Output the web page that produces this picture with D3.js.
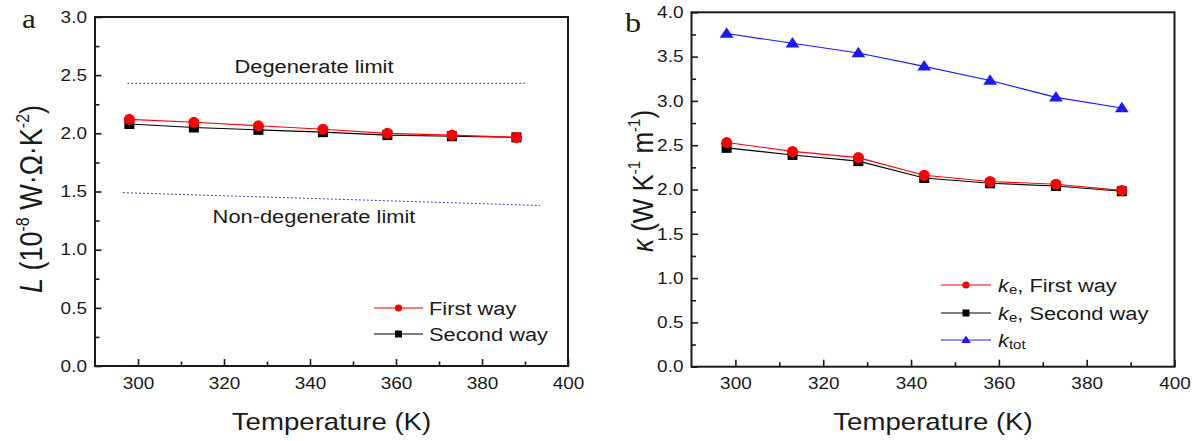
<!DOCTYPE html>
<html>
<head>
<meta charset="utf-8">
<script src="https://cdn.jsdelivr.net/npm/d3@7"></script>
<style>
  html, body { margin: 0; padding: 0; background: #fff; }
  svg { display: block; }
  text { font-family: "Liberation Sans", Arial, sans-serif; fill: #1a1a1a; }
</style>
</head>
<body>
<svg id="chart" width="1203" height="441"></svg>
<script>
// Temperatures (K)
const temperatures = [298, 313, 328, 343, 358, 373, 388];

// Panel a: Lorenz number L (10^-8 W·Ω·K^-2)
const lFirstWay  = [2.12, 2.095, 2.065, 2.035, 2.00, 1.985, 1.965];
const lSecondWay = [2.08, 2.05, 2.03, 2.01, 1.985, 1.975, 1.965];
const degenerateTemps = [297.5, 390];
const degenerateLimit = [2.43, 2.43];
const nonDegenerateTemps = [296.5, 393.5];
const nonDegenerateLimit = [1.49, 1.38];

// Panel b: thermal conductivity κ (W K^-1 m^-1)
const keFirstWay  = [2.53, 2.43, 2.36, 2.16, 2.09, 2.06, 1.99];
const keSecondWay = [2.47, 2.39, 2.32, 2.13, 2.07, 2.04, 1.98];
const kTotal      = [3.76, 3.65, 3.54, 3.39, 3.23, 3.04, 2.92];

// Axis ticks
const xMajorTicks = [300, 320, 340, 360, 380, 400];
const xMinorTicks = [310, 330, 350, 370, 390];
const yTicksA = [0, 0.5, 1.0, 1.5, 2.0, 2.5, 3.0];
const yMinorA = [0.25, 0.75, 1.25, 1.75, 2.25, 2.75];
const yTicksB = [0, 0.5, 1.0, 1.5, 2.0, 2.5, 3.0, 3.5, 4.0];
const yMinorB = [0.25, 0.75, 1.25, 1.75, 2.25, 2.75, 3.25, 3.75];

const SX = 1.15; // horizontal glyph widening used throughout the figure
const svg = d3.select("#chart");

function label(g, x, y, anchor, size) {
  return g.append("text")
    .attr("transform", `translate(${x},${y}) scale(${SX},1)`)
    .attr("text-anchor", anchor)
    .style("font-size", size + "px");
}

function marker(g, shape, cx, cy, r, color) {
  if (shape === "circle") {
    g.append("circle").attr("cx", cx).attr("cy", cy).attr("r", r).attr("fill", color);
  } else if (shape === "square") {
    g.append("rect").attr("x", cx - r).attr("y", cy - r).attr("width", 2 * r).attr("height", 2 * r).attr("fill", color);
  } else {
    const h = r * 1.75;
    g.append("path")
      .attr("d", `M${cx},${cy - h * 0.6}L${cx + r * 1.15},${cy + h * 0.4}L${cx - r * 1.15},${cy + h * 0.4}Z`)
      .attr("fill", color);
  }
}

function frame(g, x, y, yTicks, yMinor) {
  const [x0, x1] = x.range();
  const [y0, y1] = y.range();
  g.append("g").attr("transform", `translate(0,${y0})`)
    .call(d3.axisBottom(x).tickValues(xMajorTicks).tickSizeInner(-7).tickSizeOuter(0)
      .tickPadding(11).tickFormat(d3.format("d")))
    .call(s => s.select(".domain").remove());
  g.append("g").attr("transform", `translate(0,${y0})`)
    .call(d3.axisBottom(x).tickValues(xMinorTicks).tickSizeInner(-4.5).tickSizeOuter(0).tickFormat(""))
    .call(s => s.select(".domain").remove());
  g.append("g").attr("transform", `translate(${x0},0)`)
    .call(d3.axisLeft(y).tickValues(yTicks).tickSizeInner(-6.5).tickSizeOuter(0)
      .tickPadding(7).tickFormat(d3.format(".1f")))
    .call(s => s.select(".domain").remove());
  g.append("g").attr("transform", `translate(${x0},0)`)
    .call(d3.axisLeft(y).tickValues(yMinor).tickSizeInner(-4.5).tickSizeOuter(0).tickFormat(""))
    .call(s => s.select(".domain").remove());
  g.selectAll(".tick line").attr("stroke", "#1a1a1a").attr("stroke-width", 1.6);
  g.selectAll(".tick text")
    .attr("fill", "#111")
    .style("font-family", "'Liberation Sans', Arial, sans-serif")
    .style("font-size", "16.5px")
    .attr("transform", `scale(${SX},1)`);
  g.append("rect")
    .attr("x", x0).attr("y", y1).attr("width", x1 - x0).attr("height", y0 - y1)
    .attr("fill", "none").attr("stroke", "#1a1a1a").attr("stroke-width", 2);
}

function series(g, x, y, values, color, shape, r) {
  const line = d3.line().x((d, i) => x(temperatures[i])).y(d => y(d));
  g.append("path").datum(values).attr("d", line)
    .attr("fill", "none").attr("stroke", color).attr("stroke-width", 1.1);
  values.forEach((v, i) => marker(g, shape, x(temperatures[i]), y(v), r, color));
}

function legendRow(g, x0, x1, y, color, shape, r) {
  g.append("line").attr("x1", x0).attr("x2", x1).attr("y1", y).attr("y2", y)
    .attr("stroke", color).attr("stroke-width", 1.1);
  marker(g, shape, (x0 + x1) / 2, y, r, color);
}

// ---------- Panel a ----------
const ga = svg.append("g");
const xa = d3.scaleLinear().domain([290, 400]).range([95, 568]);
const ya = d3.scaleLinear().domain([0, 3]).range([366, 17]);

const limitLine = d3.line().x(d => xa(d[0])).y(d => ya(d[1]));
ga.append("path").datum(degenerateTemps.map((t, i) => [t, degenerateLimit[i]]))
  .attr("d", limitLine).attr("fill", "none").attr("stroke", "#3a3ac8")
  .attr("stroke-width", 1).attr("stroke-dasharray", "2,2");
ga.append("path").datum(nonDegenerateTemps.map((t, i) => [t, nonDegenerateLimit[i]]))
  .attr("d", limitLine).attr("fill", "none").attr("stroke", "#3a3ac8")
  .attr("stroke-width", 1).attr("stroke-dasharray", "2,2");
label(ga, 314, 73, "middle", 19).text("Degenerate limit");
label(ga, 314, 223, "middle", 19).text("Non-degenerate limit");

series(ga, xa, ya, lSecondWay, "#000", "square", 5);
series(ga, xa, ya, lFirstWay, "#ff0000", "circle", 5.5);
frame(ga, xa, ya, yTicksA, yMinorA);

legendRow(ga, 374, 423, 308, "#ff0000", "circle", 3.6);
legendRow(ga, 374, 423, 334, "#000", "square", 3.5);
label(ga, 429, 315, "start", 19).text("First way");
label(ga, 429, 341, "start", 19).text("Second way");

label(ga, (95 + 568) / 2, 430, "middle", 24).text("Temperature (K)");

const ta = ga.append("text")
  .attr("transform", `translate(42,199) rotate(-90) scale(1,${SX})`)
  .attr("text-anchor", "middle").style("font-size", "27px");
ta.append("tspan").style("font-style", "italic").text("L");
ta.append("tspan").text(" (10");
ta.append("tspan").attr("dy", -11).style("font-size", "16px").text("-8");
ta.append("tspan").attr("dy", 11).text(" W·Ω·K");
ta.append("tspan").attr("dy", -11).style("font-size", "16px").text("-2");
ta.append("tspan").attr("dy", 11).text(")");

ga.append("text").attr("transform", `translate(22,28) scale(${SX},1)`)
  .style("font-family", "'Liberation Serif', 'Times New Roman', serif")
  .style("font-size", "27px").text("a");

// ---------- Panel b ----------
const gb = svg.append("g");
const xb = d3.scaleLinear().domain([290, 400]).range([691.5, 1174.5]);
const yb = d3.scaleLinear().domain([0, 4]).range([366.7, 12.3]);

series(gb, xb, yb, kTotal, "#1a1aff", "triangle", 6);
series(gb, xb, yb, keSecondWay, "#000", "square", 5);
series(gb, xb, yb, keFirstWay, "#ff0000", "circle", 5.5);
frame(gb, xb, yb, yTicksB, yMinorB);

legendRow(gb, 941, 991, 285, "#ff0000", "circle", 3.6);
legendRow(gb, 941, 991, 313, "#000", "square", 3.5);
legendRow(gb, 941, 991, 340, "#1a1aff", "triangle", 4.2);

function kLabel(y, sub, rest) {
  const t = label(gb, 998, y, "start", 19);
  t.append("tspan").style("font-style", "italic").text("k");
  t.append("tspan").attr("dy", 2).style("font-size", "13px").text(sub);
  t.append("tspan").attr("dy", -2).text(rest);
}
kLabel(292, "e", ", First way");
kLabel(320, "e", ", Second way");
kLabel(347, "tot", "");

label(gb, (691.5 + 1174.5) / 2, 430, "middle", 24).text("Temperature (K)");

const tb = gb.append("text")
  .attr("transform", `translate(653,181) rotate(-90) scale(1,${SX})`)
  .attr("text-anchor", "middle").style("font-size", "26px");
tb.append("tspan").style("font-style", "italic").text("κ");
tb.append("tspan").text(" (W K");
tb.append("tspan").attr("dy", -11).style("font-size", "15px").text("-1");
tb.append("tspan").attr("dy", 11).text(" m");
tb.append("tspan").attr("dy", -11).style("font-size", "15px").text("-1");
tb.append("tspan").attr("dy", 11).text(")");

gb.append("text").attr("transform", `translate(625,32) scale(${SX},1)`)
  .style("font-family", "'Liberation Serif', 'Times New Roman', serif")
  .style("font-size", "28px").text("b");
</script>
</body>
</html>
